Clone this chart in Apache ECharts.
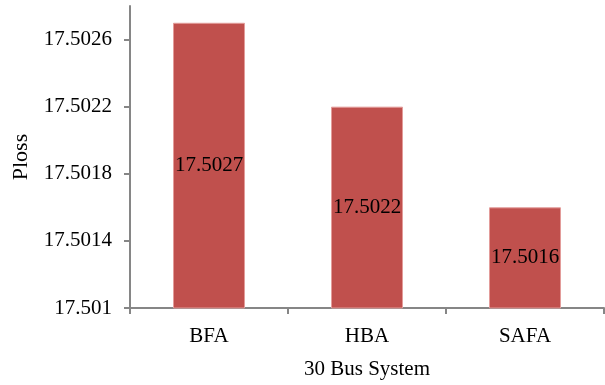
<!DOCTYPE html>
<html>
<head>
<meta charset="utf-8">
<script src="https://cdn.jsdelivr.net/npm/echarts@6/dist/echarts.min.js"></script>
<style>
  html, body { margin: 0; padding: 0; background: #fff; }
  #chart { width: 605px; height: 385px; }
</style>
</head>
<body>
<div id="chart"></div>
<script>
const categories = ["BFA", "HBA", "SAFA"];
const plossValues = [17.5027, 17.5022, 17.5016];
const yTicks = [17.501, 17.5014, 17.5018, 17.5022, 17.5026];

const chart = echarts.init(document.getElementById("chart"));
const font = "'Liberation Serif', 'Times New Roman', serif";
const axisGray = "#868686";

const option = {
  animation: false,
  grid: { left: 130, right: 1, top: 6, bottom: 74 },
  xAxis: {
    type: "category",
    data: categories,
    name: "30 Bus System",
    nameLocation: "middle",
    nameGap: 51,
    nameTextStyle: { fontFamily: font, fontSize: 21, color: "#000" },
    axisLine: { lineStyle: { color: axisGray, width: 2 } },
    axisTick: { show: true, length: 6, lineStyle: { color: axisGray, width: 2 } },
    axisLabel: { fontFamily: font, fontSize: 21, color: "#000", margin: 18 },
  },
  yAxis: {
    type: "value",
    min: 17.501,
    max: 17.5028,
    interval: 0.0004,
    name: "Ploss",
    nameLocation: "middle",
    nameGap: 98,
    nameTextStyle: { fontFamily: font, fontSize: 22, color: "#000" },
    splitLine: { show: false },
    axisLine: { show: true, lineStyle: { color: axisGray, width: 2 } },
    axisTick: { show: true, length: 6, lineStyle: { color: axisGray, width: 2 } },
    axisLabel: {
      fontFamily: font,
      fontSize: 21,
      color: "#000",
      margin: 18,
      showMaxLabel: false,
      formatter: (v) => {
        const match = yTicks.find((t) => Math.abs(t - v) < 1e-7);
        return match === undefined ? "" : String(match);
      },
    },
  },
  series: [
    {
      type: "bar",
      data: plossValues,
      barWidth: 72,
      itemStyle: { color: "#C0504D", borderColor: "#e39c9a", borderWidth: 1 },
      label: {
        show: true,
        position: "inside",
        fontFamily: font,
        fontSize: 21,
        color: "#000",
        formatter: (p) => p.value.toFixed(4),
      },
    },
  ],
};

chart.setOption(option);
</script>
</body>
</html>
